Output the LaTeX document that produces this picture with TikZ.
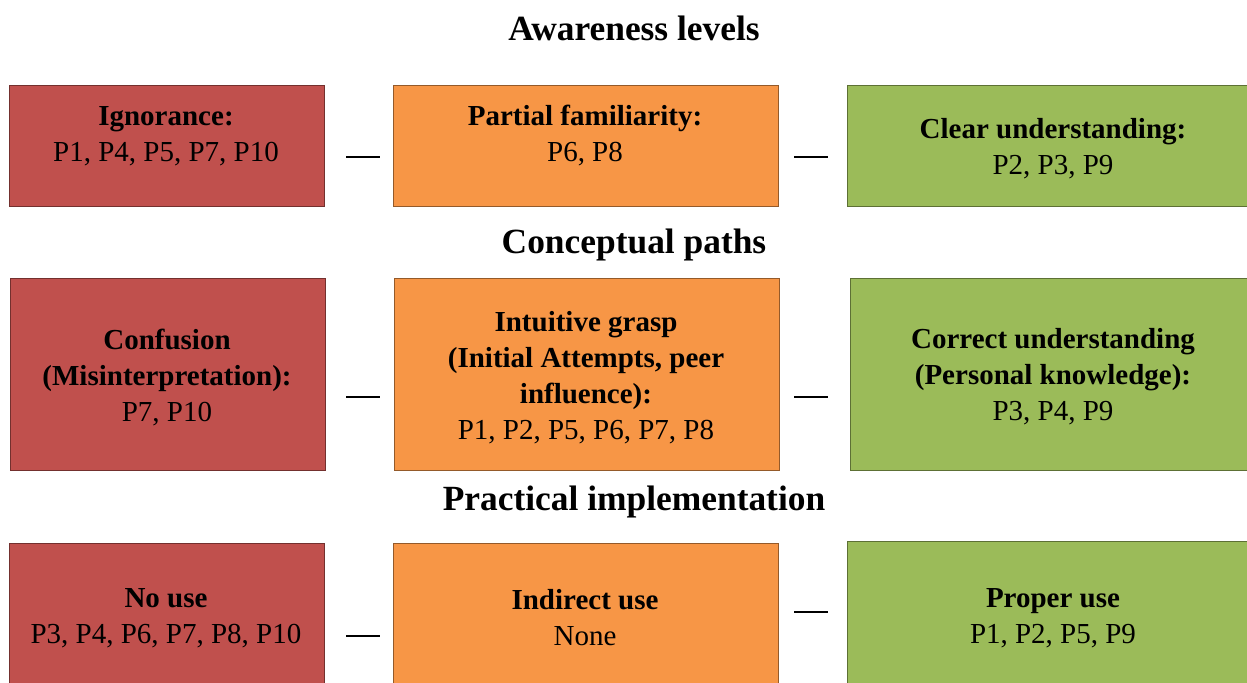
\documentclass[tikz,border=0pt]{standalone}
\usepackage{fontspec}
\setmainfont{Liberation Serif}
\usetikzlibrary{positioning}
\definecolor{boxred}{HTML}{C0504D}
\definecolor{boxorange}{HTML}{F79646}
\definecolor{boxgreen}{HTML}{9BBB59}

\begin{document}
\begin{tikzpicture}[x=0.5pt,y=-0.5pt,
  stage/.style={draw=#1!60!black,fill=#1,line width=0.6pt,inner sep=0,anchor=north west},
  colred/.style={minimum width=157.5pt},
  colorange/.style={minimum width=192.5pt},
  colgreen/.style={minimum width=206pt},
  rowa/.style={minimum height=60.5pt},
  rowb/.style={minimum height=96pt},
  rowc/.style={minimum height=75pt},
  txt/.style={align=center,inner sep=0,font=\fontsize{14.5}{18}\selectfont},
  head/.style={inner sep=0,font=\fontsize{17.7}{20}\selectfont\bfseries},
  dashbar/.style={fill=black,inner sep=0,minimum width=17pt,minimum height=1.2pt}]
\useasboundingbox (0,0) rectangle (1247,682);
\fill[white] (0,0) rectangle (1247,682);

\node[head] (h-aware) at (634,28) {Awareness levels};
\node[stage=boxred,colred,rowa] (ign) at (9,85) {};
\node[stage=boxorange,colorange,rowa] (partial) at (393,85) {};
\node[stage=boxgreen,colgreen,rowa] (clear) at (847,85) {};
\node[txt] (t-ign) at (166,136) {\textbf{Ignorance:}\\P1, P4, P5, P7, P10};
\node[txt] (t-partial) at (585,136) {\textbf{Partial familiarity:}\\P6, P8};
\node[txt] (t-clear) at (1053,149) {\textbf{Clear understanding:}\\P2, P3, P9};

\node[head] (h-concept) at (634,245) {Conceptual paths};
\node[stage=boxred,colred,rowb] (confusion) at (10,278) {};
\node[stage=boxorange,colorange,rowb] (intuitive) at (394,278) {};
\node[stage=boxgreen,colgreen,rowb] (correct) at (850,278) {};
\node[txt] (t-confusion) at (167,378) {\textbf{Confusion}\\\textbf{(Misinterpretation):}\\P7, P10};
\node[txt] (t-intuitive) at (586,378) {\textbf{Intuitive grasp}\\\textbf{(Initial Attempts, peer}\\\textbf{influence):}\\P1, P2, P5, P6, P7, P8};
\node[txt] (t-correct) at (1053,377) {\textbf{Correct understanding}\\\textbf{(Personal knowledge):}\\P3, P4, P9};

\node[head] (h-practical) at (634,502) {Practical implementation};
\node[stage=boxred,colred,rowc] (nouse) at (9,543) {};
\node[stage=boxorange,colorange,rowc] (indirect) at (393,543) {};
\node[stage=boxgreen,colgreen,rowc] (proper) at (847,541) {};
\node[txt] (t-nouse) at (166,618) {\textbf{No use}\\P3, P4, P6, P7, P8, P10};
\node[txt] (t-indirect) at (585,618) {\textbf{Indirect use}\\None};
\node[txt] (t-proper) at (1053,618) {\textbf{Proper use}\\P1, P2, P5, P9};

\foreach \x/\y/\n in {363/157/a1,811/157/a2,363/397/b1,811/397/b2,363/636/c1,811/612/c2}
  \node[dashbar] (dash-\n) at (\x,\y) {};
\end{tikzpicture}
\end{document}
